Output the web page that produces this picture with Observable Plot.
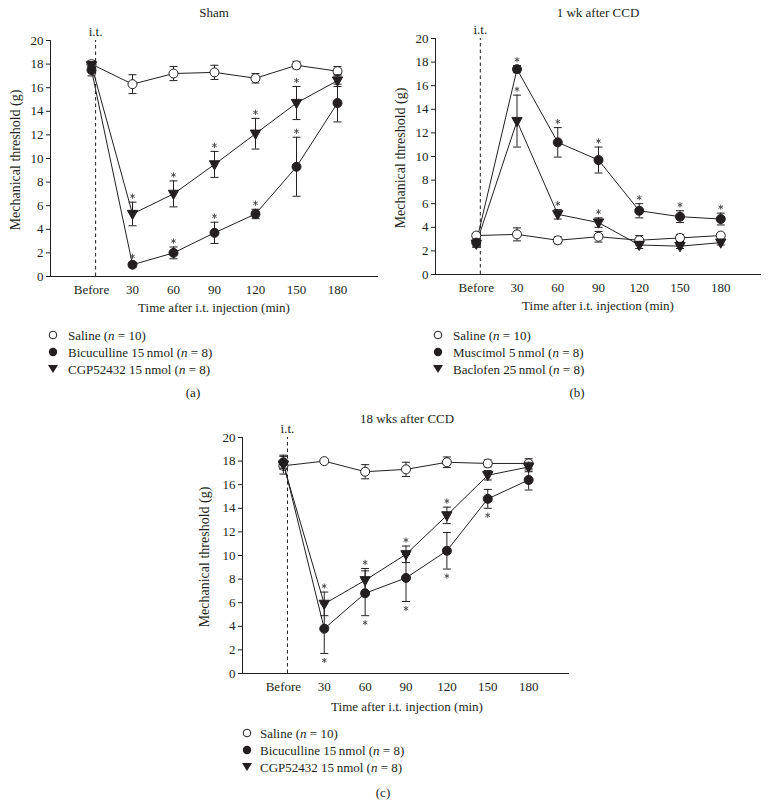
<!DOCTYPE html>
<html><head><meta charset="utf-8">
<script src="https://cdn.jsdelivr.net/npm/d3@7"></script>
<script src="https://cdn.jsdelivr.net/npm/@observablehq/plot@0.6"></script>
<style>
body{margin:0;background:#fff;font-family:"Liberation Serif",serif;color:#231f20;}
#root{position:relative;width:770px;height:807px;overflow:hidden;}
.abs{position:absolute;white-space:nowrap;font-size:13px;}
.ctr{transform:translate(-50%,-50%);}
.ylab{transform:translate(-50%,-50%) rotate(-90deg);font-size:14px;}
.panel{position:absolute;}
.leg{position:absolute;white-space:nowrap;font-size:13px;height:17px;line-height:17px;}
.leg svg{position:absolute;left:0;top:2px;}
.leg span{position:absolute;}
</style></head><body><div id="root"></div>
<script>
// ---- data ----
const timeLabels = ["Before","30","60","90","120","150","180"];
const timeMin = [0,30,60,90,120,150,180];
const yTicks = [0,2,4,6,8,10,12,14,16,18,20];
const injectionTime = 3;

// (a) Sham
const shamSaline    = [18.0,16.3,17.2,17.3,16.8,17.9,17.4];
const shamSalineErr = [0.3,0.8,0.6,0.6,0.4,0.3,0.4];
const shamBicu      = [17.5,1.0,2.0,3.7,5.3,9.3,14.7];
const shamBicuErr   = [0.5,0.2,0.5,0.9,0.4,2.5,1.6];
const shamBicuStar  = [0,1,1,1,1,1,0];
const shamCGP       = [17.9,5.3,7.0,9.5,12.1,14.7,16.6];
const shamCGPErr    = [0.3,1.0,1.1,1.1,1.3,1.4,0.5];
const shamCGPStar   = [0,1,1,1,1,1,0];

// (b) 1 wk after CCD
const wk1Saline    = [3.3,3.4,2.9,3.2,2.9,3.1,3.3];
const wk1SalineErr = [0.2,0.55,0.3,0.45,0.4,0.3,0.2];
const wk1Musc      = [2.7,17.4,11.2,9.7,5.4,4.9,4.7];
const wk1MuscErr   = [0.3,0.3,1.25,1.1,0.6,0.5,0.5];
const wk1MuscStar  = [0,1,1,1,1,1,1];
const wk1Bac       = [2.6,13.0,5.1,4.4,2.5,2.4,2.7];
const wk1BacErr    = [0.3,2.2,0.4,0.4,0.3,0.2,0.2];
const wk1BacStar   = [0,1,1,1,0,0,0];

// (c) 18 wks after CCD
const wk18Saline    = [17.6,18.0,17.1,17.3,17.9,17.8,17.8];
const wk18SalineErr = [0.3,0,0.6,0.6,0.45,0.3,0.4];
const wk18Bicu      = [17.9,3.8,6.8,8.1,10.4,14.8,16.4];
const wk18BicuErr   = [0.5,2.1,1.9,2.0,1.55,0.8,0.85];
const wk18BicuStar  = [0,1,1,1,1,1,0];
const wk18CGP       = [17.7,5.9,7.9,10.1,13.4,16.8,17.5];
const wk18CGPErr    = [0.8,1.0,1.0,0.7,0.7,0.4,0.4];
const wk18CGPStar   = [0,1,1,1,1,0,0];

const ink = "#231f20";
const FONT = "Liberation Serif, serif";

const downTri = {draw(ctx, size){const r=Math.sqrt(size/Math.PI);ctx.moveTo(-r*1.2,-r*0.85);ctx.lineTo(r*1.2,-r*0.85);ctx.lineTo(0,r*1.3);ctx.closePath();}};
const capSym = {draw(ctx, size){const r=Math.sqrt(size/Math.PI);ctx.moveTo(-r,0);ctx.lineTo(r,0);}};
const starSym = {draw(ctx, size){const r=Math.sqrt(size/Math.PI);
  for (let k=0;k<3;k++){const a=Math.PI/2+k*Math.PI/3;const dx=r*Math.cos(a),dy=r*Math.sin(a);ctx.moveTo(-dx,-dy);ctx.lineTo(dx,dy);}}};

function rows(vals, errs, stars){
  return timeMin.map((t,i)=>({t, v:vals[i], e:errs[i], s:stars?stars[i]:0}));
}

function seriesMarks(data, kind, starPos){
  const sym = kind==="tri" ? downTri : "circle";
  const fill = kind==="open" ? "white" : ink;
  const r = kind==="tri" ? 4.3 : 4.5;
  const stars = data.filter(d=>d.s);
  const bars = data.filter(d=>d.e>0);
  return [
    Plot.ruleX(bars,{x:"t",y1:d=>d.v-d.e,y2:d=>d.v+d.e,stroke:ink,strokeWidth:1}),
    Plot.dot(bars,{x:"t",y:d=>d.v+d.e,symbol:capSym,r:4,stroke:ink,strokeWidth:1}),
    Plot.dot(bars,{x:"t",y:d=>d.v-d.e,symbol:capSym,r:4,stroke:ink,strokeWidth:1}),
    Plot.dot(data,{x:"t",y:"v",symbol:sym,r,fill,stroke:ink,strokeWidth:1}),
    Plot.dot(stars,{x:"t",y:d=>starPos==="below"? d.v-d.e : d.v+d.e,symbol:starSym,r:2.6,
      dy: starPos==="below"? 7 : -6, stroke:"#444",strokeWidth:0.9})
  ];
}

function makePanel(opt){
  const all = opt.series.map(s=>({data:rows(s.vals,s.errs,s.stars),kind:s.kind,starPos:s.starPos}));
  const chart = Plot.plot({
    width: 385, height: 320,
    marginLeft: opt.mL, marginRight: opt.mR, marginTop: opt.mT, marginBottom: 320-opt.mT-236,
    style:{fontFamily:FONT,fontSize:"13px",color:ink,background:"transparent",overflow:"visible"},
    x:{domain:[-30,210]},
    y:{domain:[0,20]},
    marks:[
      Plot.axisX(timeMin,{tickFormat:d=>timeLabels[timeMin.indexOf(d)],tickSize:0,tickPadding:8,label:null,fontSize:13}),
      Plot.axisY(yTicks,{tickSize:4,tickPadding:3,label:null,fontSize:13}),
      Plot.ruleY([0],{stroke:ink}),
      Plot.ruleX([-30],{stroke:ink}),
      Plot.ruleX([injectionTime],{y1:0,y2:20,stroke:ink,strokeDasharray:"3.5,3"}),
      Plot.text(["i.t."],{x:()=>injectionTime,y:()=>20,dy:-9,text:d=>d,fontSize:13,fill:ink}),
      ...all.map(s=>Plot.line(s.data,{x:"t",y:"v",stroke:ink,strokeWidth:1})),
      ...all.flatMap(s=>seriesMarks(s.data,s.kind,s.starPos))
    ]
  });
  const wrap = document.createElement("div");
  wrap.className="panel";
  wrap.style.left=opt.left+"px"; wrap.style.top=opt.top+"px";
  wrap.appendChild(chart);
  root.appendChild(wrap);
}

function addText(txt,x,y,cls){
  const d=document.createElement("div");
  d.className="abs "+(cls||"ctr");
  d.style.left=x+"px"; d.style.top=y+"px";
  d.innerHTML=txt;
  root.appendChild(d);
}

const markerSvg = {
  open:`<svg width="12" height="12"><circle cx="6" cy="6" r="3.8" fill="white" stroke="${ink}"/></svg>`,
  filled:`<svg width="12" height="12"><circle cx="6" cy="6" r="4.2" fill="${ink}"/></svg>`,
  tri:`<svg width="12" height="12"><polygon points="1,2 11,2 6,10" fill="${ink}"/></svg>`
};
function addLegend(x,y,items,textDx){
  items.forEach((it,i)=>{
    const d=document.createElement("div");
    d.className="leg";
    d.style.left=(x-6)+"px"; d.style.top=(y+i*17-8.5)+"px";
    d.innerHTML=markerSvg[it.kind]+`<span style="left:${textDx}px">${it.label}</span>`;
    root.appendChild(d);
  });
}

const root=document.getElementById("root");

// (a)
makePanel({left:0,top:0,mL:50,mR:7,mT:40,series:[
  {vals:shamSaline,errs:shamSalineErr,kind:"open"},
  {vals:shamBicu,errs:shamBicuErr,stars:shamBicuStar,kind:"filled",starPos:"above"},
  {vals:shamCGP,errs:shamCGPErr,stars:shamCGPStar,kind:"tri",starPos:"above"}
]});
addText("Sham",214,13);
addText("Mechanical threshold (g)",16,160,"ylab");
addText("Time after i.t. injection (min)",214,308);
addLegend(53,335,[
  {kind:"open",label:"Saline (<i>n</i> = 10)"},
  {kind:"filled",label:"Bicuculline 15&#8201;nmol (<i>n</i> = 8)"},
  {kind:"tri",label:"CGP52432 15&#8201;nmol (<i>n</i> = 8)"}
],21);
addText("(a)",193,393);

// (b)
makePanel({left:385,top:0,mL:50,mR:9,mT:38,series:[
  {vals:wk1Saline,errs:wk1SalineErr,kind:"open"},
  {vals:wk1Musc,errs:wk1MuscErr,stars:wk1MuscStar,kind:"filled",starPos:"above"},
  {vals:wk1Bac,errs:wk1BacErr,stars:wk1BacStar,kind:"tri",starPos:"above"}
]});
addText("1 wk after CCD",598,13);
addText("Mechanical threshold (g)",401,158,"ylab");
addText("Time after i.t. injection (min)",598,306);
addLegend(438,335,[
  {kind:"open",label:"Saline (<i>n</i> = 10)"},
  {kind:"filled",label:"Muscimol 5&#8201;nmol (<i>n</i> = 8)"},
  {kind:"tri",label:"Baclofen 25&#8201;nmol (<i>n</i> = 8)"}
],21);
addText("(b)",577,393);

// (c)
makePanel({left:190,top:400,mL:52,mR:6,mT:37,series:[
  {vals:wk18Saline,errs:wk18SalineErr,kind:"open"},
  {vals:wk18Bicu,errs:wk18BicuErr,stars:wk18BicuStar,kind:"filled",starPos:"below"},
  {vals:wk18CGP,errs:wk18CGPErr,stars:wk18CGPStar,kind:"tri",starPos:"above"}
]});
addText("18 wks after CCD",407,419);
addText("Mechanical threshold (g)",205,557,"ylab");
addText("Time after i.t. injection (min)",407,707);
addLegend(247,733,[
  {kind:"open",label:"Saline (<i>n</i> = 10)"},
  {kind:"filled",label:"Bicuculline 15&#8201;nmol (<i>n</i> = 8)"},
  {kind:"tri",label:"CGP52432 15&#8201;nmol (<i>n</i> = 8)"}
],19);
addText("(c)",383,793);
</script></body></html>
